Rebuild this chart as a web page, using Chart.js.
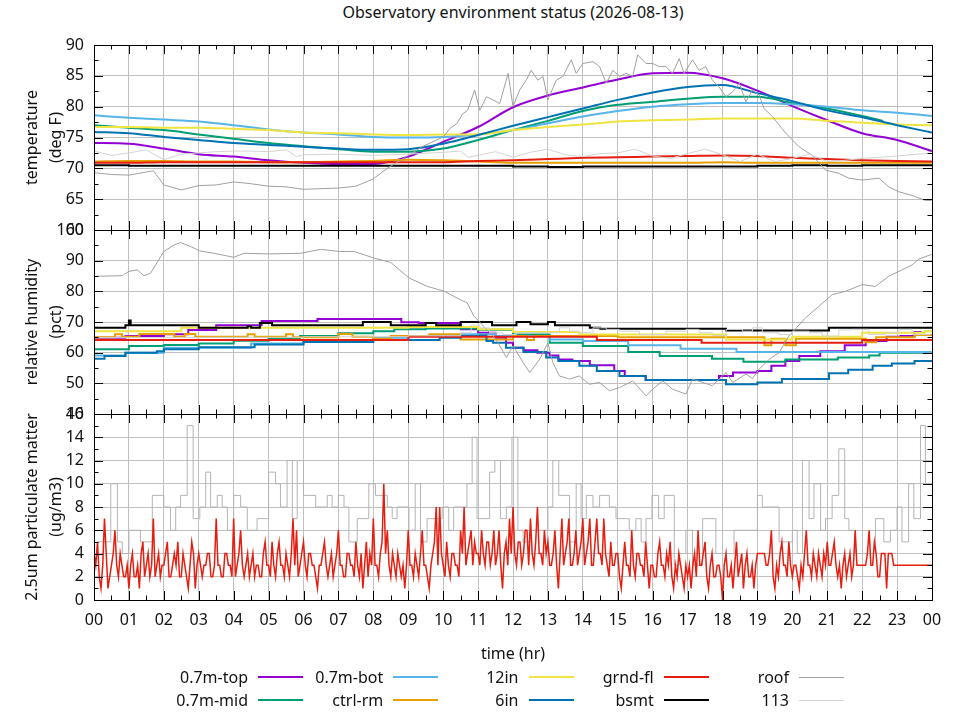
<!DOCTYPE html>
<html>
<head>
<meta charset="utf-8">
<script src="https://cdn.jsdelivr.net/npm/chart.js@4.4.1/dist/chart.umd.min.js"></script>
<style>
  body { margin: 0; background: #fff; font-family: "Noto Sans", sans-serif; color: #111; }
  #wrap { position: relative; width: 960px; height: 720px; overflow: hidden; }
  #wrap canvas { position: absolute; left: 0; }
  #title { position: absolute; top: 2px; left: 94px; width: 838px; text-align: center; font-size: 16px; line-height: 20px; }
  .lg-text { position: absolute; width: 150px; text-align: right; font-size: 16px; line-height: 20px; }
  .lg-line { position: absolute; width: 45px; }
</style>
</head>
<body>
<div id="wrap">
  <div id="title">Observatory environment status (2026-08-13)</div>
  <canvas id="tempChart" width="960" height="229" style="top:23px"></canvas>
  <canvas id="rhChart" width="960" height="228" style="top:208px"></canvas>
  <canvas id="pmChart" width="960" height="328" style="top:392px"></canvas>
</div>
<script>
// ---- temperature (deg F), hourly readings ----
var hours = [0,1,2,3,4,5,6,7,8,9,10,11,12,13,14,15,16,17,18,19,20,21,22,23,24];
var tempTop  = [74.1,74.0,73.2,72.3,71.9,71.3,70.9,70.7,70.7,71.9,74.3,76.7,79.9,81.8,83.1,84.4,85.4,85.5,84.6,82.6,80.1,77.8,75.7,74.6,72.8];
var midHours = [0,1,2,3,4,5,6,7,8,9,10,11,12,13,14,15,16,17,18,19,20,21,22,22.6];
var tempMid  = [77.0,76.6,76.2,75.5,74.8,74.1,73.6,73.1,72.7,72.7,73.2,74.6,76.2,77.7,79.3,80.3,80.8,81.3,81.6,81.6,80.6,79.7,78.5,77.7];
var tempBot  = [78.6,78.2,77.9,77.6,77.0,76.3,75.8,75.5,75.1,75.0,75.1,75.5,76.2,77.3,78.4,79.3,80.0,80.4,80.6,80.6,80.4,80.0,79.4,79.0,78.5];
var tempCtrl = [71.1,71.2,71.2,71.1,71.1,71.0,71.0,71.1,71.2,71.4,71.3,71.1,70.9,70.9,70.9,70.9,70.9,70.9,71.0,70.9,70.9,70.9,70.9,70.9,70.9];
var temp12in = [76.7,76.7,76.6,76.6,76.4,76.2,75.8,75.7,75.5,75.4,75.5,75.5,76.2,76.7,77.1,77.6,77.8,77.9,78.1,78.1,78.1,77.7,77.4,77.1,77.0];
var temp6in  = [75.9,75.7,75.1,74.6,74.1,73.8,73.5,73.2,73.0,73.1,74.0,75.4,76.9,78.3,79.7,81.1,82.3,83.2,83.5,82.2,80.9,79.4,78.3,77.0,75.8];
var tempGrnd = [70.9,70.9,71.0,71.0,71.0,71.0,71.0,71.0,71.0,71.0,71.0,71.2,71.3,71.5,71.7,71.8,71.9,72.0,72.1,72.0,71.7,71.5,71.3,71.2,71.1];
var tempBsmt = [70.5,70.4,70.4,70.4,70.4,70.4,70.4,70.4,70.4,70.4,70.4,70.4,70.3,70.2,70.3,70.3,70.3,70.3,70.3,70.4,70.5,70.4,70.5,70.5,70.5];

var roofTempHours = [0,0.5,1,1.5,1.7,2,2.5,3,3.5,4,4.5,5,5.5,6,6.5,7,7.5,8,8.4,9,9.4,10,10.2,10.4,10.55,10.7,10.8,10.9,11.05,11.24,
  11.43,11.62,11.86,12,12.19,12.38,12.52,12.71,12.86,13,13.24,13.43,13.67,13.81,14,14.29,14.48,14.67,14.86,15.05,
  15.24,15.43,15.57,15.81,16,16.19,16.38,16.57,16.76,16.9,17.14,17.33,17.52,17.71,17.9,18.1,18.29,18.48,18.67,18.86,
  19.05,19.19,19.43,19.81,20.19,20.57,20.95,21.33,21.62,22,22.48,22.76,23.05,23.43,23.81,24];
var roofTemp = [69.3,69.0,68.9,69.4,69.6,67.3,66.5,67.2,67.3,67.8,67.5,67.1,67.0,66.6,66.7,66.8,67.1,68.3,70.0,72.1,73.5,75.1,76.5,77.3,78.8,79.4,81.0,82.7,79.4,81.6,
  81.1,80.5,85.4,80.0,82.7,84.3,85.9,84.3,84.9,81.1,84.3,84.9,87.6,85.4,87.0,87.3,86.5,83.8,85.9,84.9,
  85.4,84.9,88.4,87.0,87.0,86.5,86.5,85.4,87.8,85.4,87.6,85.9,86.5,84.3,83.2,81.6,82.4,83.8,80.8,82.7,
  81.9,79.7,78.4,75.7,73.5,72.1,69.7,69.2,68.4,68.1,68.4,67.0,66.2,65.6,64.8,64.8];

var t113Hours = [0,0.5,1,1.5,2,2.5,3,3.5,4,4.5,5,5.5,5.8,6,7,8,9,10,10.5,10.7,11,11.5,12,12.5,13,13.5,14,14.5,15,15.5,16,16.5,17,17.5,18,18.5,19,19.5,20,20.5,21,21.5,22,23,24];
var temp113 = [72.8,72.1,72.5,73.0,71.4,72.3,72.5,72.7,72.8,72.8,72.7,73.0,71.9,72.2,72.3,72.1,72.3,72.6,72.8,71.8,72.1,72.7,71.8,72.6,73.1,72.2,71.9,72.4,72.5,73.1,72.0,71.6,72.4,73.1,72.2,71.1,72.3,71.1,71.6,72.3,71.1,71.3,71.6,72.0,72.5];

// ---- relative humidity (pct), change points ----
var rhTopHours = [0,0.9,2.0,2.7,3.5,4.8,6.4,8.8,9.3,10.5,11.0,11.5,11.8,12.0,12.3,12.7,13.05,13.3,13.7,14.2,14.9,15.2,15.8,17.9,18.3,19.0,19.4,19.8,20.2,20.8,21.5,22.1,22.7,23.1,23.5,23.7];
var rhTop = [64.9,65.4,66.0,67.4,68.9,70.3,71.0,69.9,69.7,67.6,66.5,64.9,63.2,61.6,60.8,60.0,59.1,57.8,57.3,55.9,54.0,52.4,51.1,52.4,53.5,54.0,55.7,57.3,58.9,60.5,62.4,63.8,65.2,65.4,66.7,66.7];
var rhMidHours = [0,1,2,3,4,5,5.9,7,8,8.6,9.5,11,12,13.05,14,15.3,16.2,17.7,18.6,19.8,21.3,22.2,22.5,24];
var rhMid = [61.1,62.2,62.5,63.0,63.9,64.6,65.4,66.3,67.0,67.6,67.9,67.5,65.9,63.2,62.2,60.2,58.9,58.0,57.0,57.8,58.4,59.1,60.0,60.0];
var rhBotHours = [0,0.9,2.0,4.5,6.0,8.0,9.0,10.5,11.5,13.05,14.0,15.3,16.8,18.4,24];
var rhBot = [59.1,60.0,61.6,63.0,64.1,64.9,65.4,66.0,65.4,64.3,63.8,62.4,61.3,60.2,60.2];
var rhCtrlHours = [0,0.6,0.8,1.3,2.3,2.6,2.9,4.4,4.6,5.5,5.7,7.0,7.4,8.0,8.5,9.6,10.5,12.0,12.4,12.6,15.0,19.2,19.4,19.8,20.1,22.1,22.4,23.5,24];
var rhCtrl = [65.0,66.0,65.2,66.1,65.2,66.1,65.2,66.0,65.2,66.0,65.0,66.1,65.2,64.5,65.4,66.0,64.3,65.4,64.1,65.4,65.0,62.4,64.5,62.4,64.5,63.4,65.0,65.8,65.8];
var rh12inHours = [0,2.5,9.0,11.0,12.0,13.9,18.1,20.0,22.0,23.8,24];
var rh12in = [67.0,68.1,68.4,67.6,66.7,65.9,64.3,65.2,66.5,67.0,67.0];
var rh6inHours = [0,0.3,0.9,1.8,2.0,3.0,4.6,6.0,8.0,9.9,10.5,11.05,11.24,11.43,11.8,12.3,12.95,13.3,13.9,14.4,15.05,15.8,18.1,19.0,19.7,21.05,21.6,22.3,22.85,23.5,24];
var rh6in = [58.0,58.9,60.0,60.5,61.1,61.8,62.7,63.5,64.1,64.9,65.4,65.6,63.8,63.2,61.6,60.2,58.4,57.3,55.7,54.0,52.4,51.1,49.7,50.3,51.4,53.3,54.4,55.7,56.5,57.3,57.3];
var rhGrndHours = [0,9.0,14.4,17.4,22.0,24];
var rhGrnd = [64.1,65.2,64.1,63.2,64.1,64.1];
var rhBsmtHours = [0,0.9,1.0,1.05,3.0,4.4,4.5,4.75,5.1,7.7,8.5,9.5,9.8,10.5,11.4,12.1,12.5,13.0,13.2,14.2,14.5,18.1,21.05,24];
var rhBsmt = [68.1,68.9,70.5,68.9,68.1,68.6,68.1,69.7,68.9,70.0,68.9,69.7,68.9,70.0,68.9,70.0,69.3,70.0,68.9,68.1,67.8,67.2,68.1,68.1];
var rhRoofHours = [0,0.81,1.0,1.24,1.43,1.62,2.0,2.29,2.48,2.77,3.02,3.44,4.0,4.3,5.02,5.92,6.49,7.02,7.45,8.03,
  8.5,9.03,9.55,10.04,10.4,10.69,10.88,11.07,11.24,11.52,11.81,12.0,12.29,12.48,12.76,13.0,13.14,13.33,13.62,13.9,
  14.19,14.48,14.76,15.05,15.43,15.81,16.0,16.29,16.57,16.95,17.14,17.43,17.71,18.1,18.29,18.67,18.86,19.05,19.33,19.62,
  19.9,20.38,20.76,21.14,21.52,22.0,22.38,22.76,23.14,23.43,23.62,23.95,24];
var rhRoof = [84.9,85.1,86.5,87.0,85.1,85.9,93.0,95.1,95.9,94.6,93.2,92.4,91.1,92.4,92.2,92.4,93.7,93.0,93.0,90.8,
  89.4,84.3,81.6,80.0,77.8,76.2,71.9,69.7,67.6,64.3,58.4,62.2,56.8,53.5,57.8,63.2,56.8,52.4,51.4,52.4,
  49.7,50.3,47.6,48.6,50.8,45.9,48.1,50.8,48.1,46.5,51.4,50.3,49.2,53.5,50.3,53.0,51.6,54.6,57.8,60.0,
  65.4,71.4,75.1,78.9,80.0,82.2,81.6,84.9,87.0,88.6,90.5,91.9,91.9];
var rh113Hours = [0,3,6,9,10.5,10.8,11.05,11.33,11.71,12.1,12.57,13.33,13.62,13.9,14.29,14.67,15.05,15.62,16.38,16.95,
  17.33,17.71,18.1,18.57,18.86,19.14,19.62,20.0,20.48,20.86,21.33,21.71,22.19,22.67,23.05,23.43,23.95];
var rh113 = [64.9,65.0,65.2,65.5,66.5,69.0,68.1,66.5,65.9,66.5,66.5,68.1,67.0,66.5,68.1,67.6,67.0,65.9,67.0,67.6,
  66.5,65.6,67.6,67.0,68.1,66.5,65.9,67.0,66.5,65.4,67.4,67.6,65.9,66.5,67.6,65.9,66.5];

// ---- 2.5um particulate matter (ug/m3), grnd-fl every 3 min, one row per hour ----
var pmHours = [];
for (var i = 0; i <= 480; i++) pmHours.push(i / 20);
var pmGrnd = [
  4,3,5,2,1,3,7,4,1,2,3,4,6,3,2,4,3,2,2,3,
  1,3,4,2,2,3,1,4,5,2,3,4,2,3,7,2,3,4,2,3,
  3,4,5,2,2,3,4,3,5,2,2,4,3,2,1,3,5,4,1,3,
  4,3,2,3,3,4,4,2,2,3,7,3,3,2,2,4,4,3,3,2,
  7,2,3,4,6,3,2,3,4,2,3,4,2,3,3,2,2,4,5,3,
  3,2,5,3,2,4,5,3,3,2,4,3,2,4,7,3,6,2,3,4,
  5,3,2,4,4,3,3,2,1,3,3,4,5,3,2,3,4,2,3,4,
  6,3,3,2,2,4,4,3,3,2,5,3,2,4,1,3,5,2,4,3,
  7,3,3,2,4,5,10,4,6,3,2,4,3,2,4,3,2,3,1,3,
  6,3,3,2,4,3,2,4,6,3,3,2,1,3,4,5,8,3,8,4,
  3,2,5,3,2,4,4,3,3,2,6,4,8,3,4,5,6,3,5,4,
  4,3,6,4,3,5,5,3,4,6,3,4,6,3,1,4,5,3,7,4,
  8,4,3,5,5,3,4,6,6,3,7,4,3,5,8,4,4,3,6,4,
  5,3,3,4,6,3,1,4,7,3,4,5,7,3,3,4,6,3,4,5,
  7,3,4,5,7,3,3,5,7,4,4,3,7,4,3,2,5,3,3,4,
  4,2,1,3,5,3,3,2,6,3,2,4,4,3,3,2,5,3,1,3,
  3,2,2,4,5,3,3,2,4,3,5,2,1,3,2,4,3,2,1,3,
  2,3,1,3,4,2,6,3,3,4,5,2,1,3,4,2,2,3,3,2,
  0,3,4,2,2,3,1,3,5,2,3,4,1,3,4,2,2,3,1,3,
  4,4,4,4,4,3,3,4,6,2,1,3,2,4,5,3,3,2,5,3,
  2,3,3,2,1,3,2,4,6,3,3,2,4,3,2,4,3,2,4,3,
  5,3,3,4,5,3,2,3,1,3,4,2,3,4,2,3,6,3,3,3,
  3,3,3,4,6,3,3,5,4,2,2,4,4,4,1,4,4,4,3,3,
  3,3,3,3,3,3,3,3,3,3,3,3,3,3,3,3,3,3,3,3,
  3];
var pmRoofHours = [0,0.1,0.48,0.67,0.81,1.0,1.33,1.67,2.0,2.19, 2.34,2.48,2.67,2.84,3.03,3.2,3.34,3.53,3.67,3.82,
  4.0,4.2,4.39,4.67,5.0,5.2,5.34,5.53,5.68,5.82, 6.0,6.35,6.68,6.82,7.0,7.16,7.3,7.54,7.87,8.06,
  8.4,8.54,8.68,9.02,9.2,9.35,9.54,9.97,10.16,10.3, 10.68,10.83,10.97,11.33,11.48,11.64,11.81,11.97,12.14,12.29,
  12.48,13.0,13.14,13.31,13.62,13.81,13.95,14.1,14.29,14.48, 14.76,14.95,15.33,15.52,15.67,15.81,15.98,16.17,
  16.33,16.62,16.76,16.95,17.14,17.43,17.81,18.33,19.0,19.14, 19.62,20.0,20.14,20.29,20.48,20.62,20.81,20.95,21.14,21.33,
  21.5,21.62,21.81,22.38,22.62,22.81,23.0,23.14,23.33,23.48, 23.67,23.81,24];
var pmRoof = [4,5,10,5,4,6,5,9,8,6, 8,9,15,7,8,11,8,9,8,6,
  9,8,6,7,11,10,8,12,7,12, 9,8,9,8,9,8,5,7,10,9,
  8,7,8,6,10,5,7,8,6,8, 10,14,7,11,12,7,8,14,6,5,
  6,8,12,9,5,10,7,9,8,9, 8,7,6,7,5,7,9,7,
  9,3,4,6,3,7,4,6,9,8, 5,6,4,12,7,10,6,7,9,13,
  7,6,4,7,5,6,8,5,10,7, 15,10,10];

var FONT = '"Noto Sans", sans-serif';
var GRID = '#c0c0c0';

var series = [
  { label: '0.7m-top', color: '#9400d3', width: 2 },
  { label: '0.7m-mid', color: '#009e73', width: 2 },
  { label: '0.7m-bot', color: '#56b4e9', width: 2 },
  { label: 'ctrl-rm',  color: '#e69f00', width: 2 },
  { label: '12in',     color: '#f0e442', width: 2 },
  { label: '6in',      color: '#0072b2', width: 2 },
  { label: 'grnd-fl',  color: '#e51e10', width: 2 },
  { label: 'bsmt',     color: '#000000', width: 2 },
  { label: 'roof',     color: '#a0a0a0', width: 1 },
  { label: '113',      color: '#d3d3d3', width: 1 }
];

function line(idx, t, v, extra) {
  var s = series[idx];
  var ds = {
    label: s.label,
    data: t.map(function (x, i) { return { x: x, y: v[i] }; }),
    borderColor: s.color,
    borderWidth: s.width,
    pointRadius: 0,
    fill: false,
    tension: 0,
    order: -idx
  };
  return Object.assign(ds, extra || {});
}

// frame with inward major/minor ticks on all four sides
var frame = {
  id: 'frame',
  afterDatasetsDraw: function (chart, args, opts) {
    var ctx = chart.ctx, a = chart.chartArea, x = chart.scales.x, y = chart.scales.y;
    ctx.save();
    ctx.strokeStyle = '#000';
    ctx.lineWidth = 1;
    ctx.beginPath();
    for (var h = 0; h <= 48; h++) {
      var px = Math.round(x.getPixelForValue(h / 2)) + 0.5;
      var len = h % 2 === 0 ? 9 : 4.5;
      ctx.moveTo(px, a.top); ctx.lineTo(px, a.top + len);
      ctx.moveTo(px, a.bottom); ctx.lineTo(px, a.bottom - len);
    }
    var n = Math.round((y.max - y.min) / (opts.step / 2));
    for (var k = 0; k <= n; k++) {
      var py = Math.round(y.getPixelForValue(y.min + k * opts.step / 2)) + 0.5;
      var l2 = k % 2 === 0 ? 9 : 4.5;
      ctx.moveTo(a.left, py); ctx.lineTo(a.left + l2, py);
      ctx.moveTo(a.right, py); ctx.lineTo(a.right - l2, py);
    }
    ctx.stroke();
    ctx.strokeRect(Math.round(a.left) + 0.5, Math.round(a.top) + 0.5, Math.round(a.right - a.left), Math.round(a.bottom - a.top));
    ctx.restore();
  }
};

function panel(id, datasets, yMin, yMax, yStep, yTitle, showX) {
  return new Chart(document.getElementById(id), {
    type: 'line',
    data: { datasets: datasets },
    options: {
      responsive: false,
      animation: false,
      layout: { padding: { top: 22, bottom: showX ? 52 : 22, left: 0, right: 28 } },
      scales: {
        x: {
          type: 'linear', min: 0, max: 24,
          grid: { color: GRID, drawTicks: false },
          border: { display: false },
          ticks: {
            display: showX, stepSize: 1, autoSkip: false, maxRotation: 0, padding: 11,
            color: '#111', font: { family: FONT, size: 16 },
            callback: function (v) { return String(v % 24).padStart(2, '0'); }
          },
          title: { display: showX, text: 'time (hr)', color: '#111', font: { family: FONT, size: 16 } },
          afterFit: function (s) { s.height = showX ? 68 : 0; }
        },
        y: {
          min: yMin, max: yMax,
          grid: { color: GRID, drawTicks: false },
          border: { display: false },
          ticks: { stepSize: yStep, padding: 10, color: '#111', font: { family: FONT, size: 16 } },
          title: {
            display: true, text: yTitle, color: '#111',
            font: { family: FONT, size: 16, lineHeight: 1.5 },
            padding: { top: 20.5, bottom: 0 }
          },
          afterFit: function (s) { s.width = 94; }
        }
      },
      plugins: { legend: { display: false }, tooltip: { enabled: false }, frame: { step: yStep } }
    },
    plugins: [frame]
  });
}

var smooth = { cubicInterpolationMode: 'monotone' };
var step = { stepped: true };

panel('tempChart', [
  line(0, hours, tempTop, smooth),
  line(1, midHours, tempMid, smooth),
  line(2, hours, tempBot, smooth),
  line(3, hours, tempCtrl, smooth),
  line(4, hours, temp12in, smooth),
  line(5, hours, temp6in, smooth),
  line(6, hours, tempGrnd, smooth),
  line(7, hours, tempBsmt, step),
  line(8, roofTempHours, roofTemp),
  line(9, t113Hours, temp113)
], 60, 90, 5, ['temperature', '(deg F)'], false);

panel('rhChart', [
  line(0, rhTopHours, rhTop, step),
  line(1, rhMidHours, rhMid, step),
  line(2, rhBotHours, rhBot, step),
  line(3, rhCtrlHours, rhCtrl, step),
  line(4, rh12inHours, rh12in, step),
  line(5, rh6inHours, rh6in, step),
  line(6, rhGrndHours, rhGrnd, step),
  line(7, rhBsmtHours, rhBsmt, step),
  line(8, rhRoofHours, rhRoof),
  line(9, rh113Hours, rh113, step)
], 40, 100, 10, ['relative humidity', '(pct)'], false);

panel('pmChart', [
  line(6, pmHours, pmGrnd, { borderWidth: 1.5, order: 0 }),
  line(8, pmRoofHours, pmRoof, { stepped: true, borderColor: '#b4b4b4', order: 1 })
], 0, 16, 2, ['2.5um particulate matter', '(ug/m3)'], true);

// legend: 5 columns x 2 rows, text right-aligned before the sample line
var wrap = document.getElementById('wrap');
series.forEach(function (s, i) {
  var col = Math.floor(i / 2), row = i % 2;
  var right = 248 + col * 135.25, yc = 677 + row * 23;
  var t = document.createElement('div');
  t.className = 'lg-text';
  t.textContent = s.label;
  t.style.left = (right - 150) + 'px';
  t.style.top = (yc - 10) + 'px';
  wrap.appendChild(t);
  var l = document.createElement('div');
  l.className = 'lg-line';
  l.style.left = (right + 10) + 'px';
  l.style.top = (yc - s.width / 2) + 'px';
  l.style.height = s.width + 'px';
  l.style.background = s.color;
  wrap.appendChild(l);
});
</script>
</body>
</html>
